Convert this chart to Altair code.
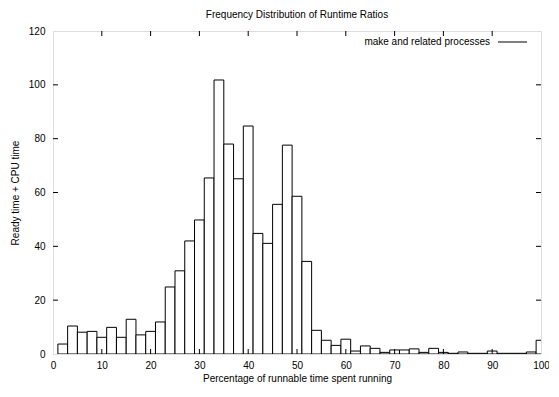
import altair as alt
import pandas as pd

# bin centers (percent) and heights
centers = list(range(2, 101, 2))
counts = [3.7, 10.4, 8.1, 8.4, 6.2, 9.9, 6.2, 12.9, 7.1, 8.4,
          11.9, 24.9, 30.9, 42.0, 49.8, 65.4, 101.8, 78.0, 65.1, 84.7,
          44.8, 41.1, 55.6, 77.6, 58.6, 34.4, 8.8, 5.1, 3.2, 5.5,
          1.1, 3.0, 2.1, 0.6, 1.5, 1.5, 1.9, 0.6, 2.1, 0.6,
          0.25, 0.75, 0.25, 0.25, 1.1, 0.25, 0.25, 0.25, 0.75, 5.1]
bin_width = 2
x_ticks = [10, 20, 30, 40, 50, 60, 70, 80, 90]
y_ticks = [20, 40, 60, 80, 100]
x_labels = [0, 10, 20, 30, 40, 50, 60, 70, 80, 90, 100]
y_labels = [0, 20, 40, 60, 80, 100, 120]
legend_label = ["make and related processes"]

FONT = "Liberation Sans"
W, H = 488, 323

df = pd.DataFrame({"c": centers, "n": counts})
df["x0"] = df["c"] - bin_width / 2
df["x1"] = df["c"] + bin_width / 2

xs = alt.Scale(domain=[0, 100], nice=False, zero=False)
ys = alt.Scale(domain=[0, 120], nice=False)

xaxis = alt.Axis(values=x_labels, ticks=False, domain=False, grid=False, labelFlush=False,
                 labelPadding=6, labelFontSize=10, labelFont=FONT, labelColor="black",
                 title="Percentage of runnable time spent running",
                 titleFont=FONT, titleFontSize=10, titleFontWeight="normal",
                 titleColor="black", titlePadding=3)
yaxis = alt.Axis(values=y_labels, ticks=False, domain=False, grid=False, labelFlush=False,
                 labelPadding=8, labelFontSize=10, labelFont=FONT, labelColor="black",
                 title="Ready time + CPU time",
                 titleFont=FONT, titleFontSize=10, titleFontWeight="normal",
                 titleColor="black", titlePadding=8)

bars = alt.Chart(df).mark_bar(fill="white", stroke="black", strokeWidth=1, clip=True).encode(
    x=alt.X("x0:Q", scale=xs, axis=xaxis),
    x2="x1:Q",
    y=alt.Y("n:Q", scale=ys, axis=yaxis),
    y2=alt.datum(0),
)

xt = pd.DataFrame({"t": x_ticks})
yt = pd.DataFrame({"t": y_ticks})

xb = alt.Chart(xt).mark_rule(color="black", strokeWidth=1).encode(
    x=alt.X("t:Q", scale=xs), y=alt.value(H), y2=alt.value(H - 5))
xtop = alt.Chart(xt).mark_rule(color="black", strokeWidth=1).encode(
    x=alt.X("t:Q", scale=xs), y=alt.value(0), y2=alt.value(5))
yl = alt.Chart(yt).mark_rule(color="black", strokeWidth=1).encode(
    y=alt.Y("t:Q", scale=ys), x=alt.value(0), x2=alt.value(5))
yr = alt.Chart(yt).mark_rule(color="black", strokeWidth=1).encode(
    y=alt.Y("t:Q", scale=ys), x=alt.value(W - 5), x2=alt.value(W))

lg = pd.DataFrame({"label": legend_label})
leg_text = alt.Chart(lg).mark_text(align="right", baseline="middle", font=FONT,
                                   fontSize=10, color="black").encode(
    text="label:N", x=alt.value(437), y=alt.value(11))
leg_line = alt.Chart(lg).mark_rule(color="black", strokeWidth=1).encode(
    x=alt.value(445), x2=alt.value(474), y=alt.value(11))

chart = alt.layer(bars, xb, xtop, yl, yr, leg_text, leg_line).properties(
    width=W, height=H,
    title=alt.Title("Frequency Distribution of Runtime Ratios", font=FONT, fontSize=10,
                    fontWeight="normal", color="black", offset=6),
    autosize=alt.AutoSizeParams(type="none"),
    padding={"left": 45, "top": 23, "right": 8, "bottom": 31},
).configure_view(stroke="black", strokeWidth=1).configure(background="white")

chart.save("out.html", embed_options={"renderer": "svg", "actions": False})
